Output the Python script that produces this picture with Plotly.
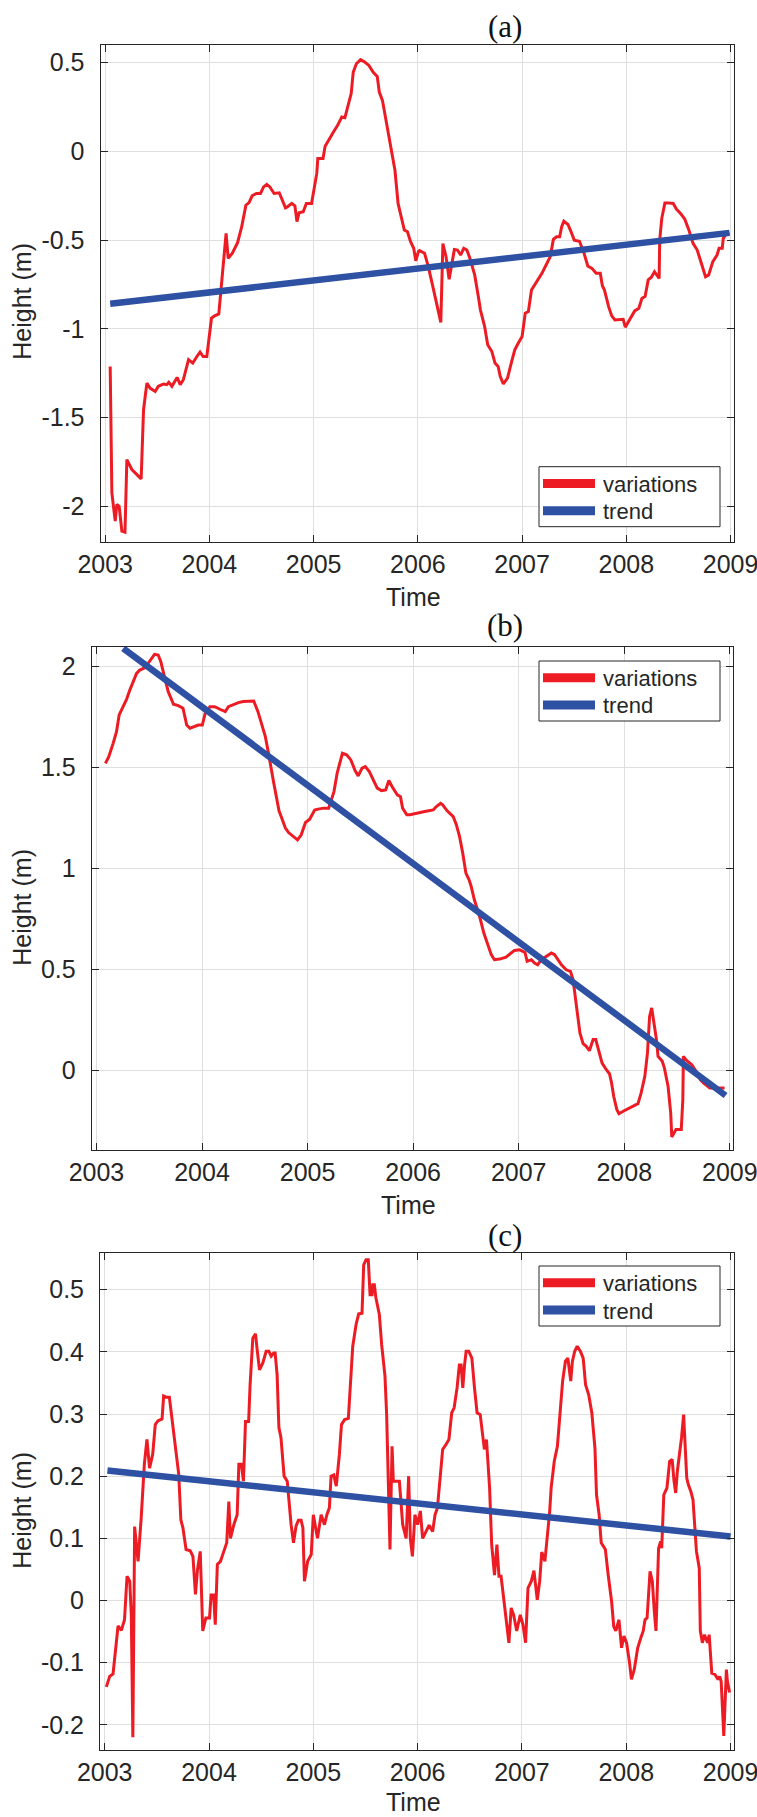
import plotly.graph_objects as go

# ---------------- data ----------------
# Panel (a)
A_t = [2003.048, 2003.064, 2003.096, 2003.112, 2003.134, 2003.16, 2003.19, 2003.208, 2003.256, 2003.288,
       2003.345, 2003.368, 2003.40, 2003.43, 2003.48, 2003.51, 2003.56, 2003.59, 2003.61, 2003.64,
       2003.69, 2003.72, 2003.75, 2003.80, 2003.84, 2003.88, 2003.91, 2003.94, 2003.975, 2004.02,
       2004.05, 2004.09, 2004.13, 2004.16, 2004.18, 2004.22, 2004.27, 2004.31, 2004.35, 2004.38,
       2004.41, 2004.45, 2004.49, 2004.52, 2004.55, 2004.58, 2004.62, 2004.67, 2004.73, 2004.75,
       2004.79, 2004.82, 2004.84, 2004.86, 2004.90, 2004.93, 2004.98, 2005.005, 2005.03, 2005.04,
       2005.09, 2005.11, 2005.15, 2005.19, 2005.23, 2005.27, 2005.30, 2005.33, 2005.36, 2005.38,
       2005.41, 2005.45, 2005.49, 2005.53, 2005.57, 2005.61, 2005.63, 2005.66, 2005.70, 2005.75,
       2005.78, 2005.81, 2005.85, 2005.87, 2005.90, 2005.93, 2005.96, 2005.98, 2006.005, 2006.016,
       2006.064, 2006.10, 2006.14, 2006.18, 2006.22, 2006.24, 2006.27, 2006.30, 2006.33, 2006.35,
       2006.38, 2006.41, 2006.44, 2006.47, 2006.50, 2006.545, 2006.58, 2006.60, 2006.64, 2006.67,
       2006.71, 2006.74, 2006.77, 2006.79, 2006.82, 2006.86, 2006.90, 2006.93, 2006.96, 2007.0,
       2007.03, 2007.06, 2007.09, 2007.14, 2007.19, 2007.23, 2007.27, 2007.30, 2007.33, 2007.36,
       2007.38, 2007.40, 2007.44, 2007.47, 2007.50, 2007.55, 2007.59, 2007.63, 2007.67, 2007.71,
       2007.75, 2007.77, 2007.79, 2007.83, 2007.86, 2007.89, 2007.94, 2007.97, 2007.99, 2008.03,
       2008.08, 2008.12, 2008.15, 2008.18, 2008.21, 2008.24, 2008.27, 2008.315, 2008.32, 2008.34,
       2008.37, 2008.40, 2008.45, 2008.48, 2008.52, 2008.56, 2008.60, 2008.64, 2008.68, 2008.71,
       2008.74, 2008.76, 2008.79, 2008.83, 2008.87, 2008.89, 2008.92, 2008.93, 2008.96, 2008.99]
A_v = [-1.212, -1.924, -2.084, -1.99, -2.0, -2.14, -2.146, -1.737, -1.793, -1.812,
       -1.846, -1.456, -1.306, -1.334, -1.353, -1.324, -1.311, -1.315, -1.302, -1.324,
       -1.274, -1.315, -1.287, -1.174, -1.193, -1.156, -1.131, -1.156, -1.156, -0.94,
       -0.927, -0.916, -0.631, -0.462, -0.603, -0.574, -0.514, -0.424, -0.303, -0.288,
       -0.25, -0.237, -0.237, -0.2, -0.186, -0.2, -0.237, -0.233, -0.318, -0.312,
       -0.293, -0.306, -0.396, -0.346, -0.34, -0.293, -0.293, -0.218, -0.124, -0.04,
       -0.04, 0.029, 0.072, 0.11, 0.147, 0.194, 0.19, 0.26, 0.326, 0.447,
       0.494, 0.517, 0.504, 0.485, 0.447, 0.423, 0.335, 0.288, 0.157, 0.007,
       -0.106, -0.293, -0.387, -0.443, -0.453, -0.509, -0.546, -0.616, -0.565, -0.559,
       -0.574, -0.649, -0.752, -0.856, -0.964, -0.519, -0.593, -0.721, -0.631, -0.553,
       -0.556, -0.584, -0.546, -0.556, -0.603, -0.696, -0.818, -0.893, -0.986, -1.09,
       -1.128, -1.193, -1.212, -1.268, -1.311, -1.278, -1.184, -1.118, -1.084, -1.043,
       -0.912, -0.903, -0.781, -0.734, -0.687, -0.64, -0.593, -0.496, -0.481, -0.481,
       -0.424, -0.393, -0.412, -0.453, -0.5, -0.506, -0.565, -0.646, -0.659, -0.687,
       -0.687, -0.757, -0.781, -0.875, -0.927, -0.95, -0.95, -0.946, -0.991, -0.95,
       -0.899, -0.884, -0.828, -0.818, -0.724, -0.709, -0.678, -0.716, -0.5, -0.378,
       -0.29, -0.29, -0.293, -0.325, -0.349, -0.381, -0.443, -0.518, -0.556, -0.612,
       -0.668, -0.706, -0.696, -0.621, -0.584, -0.546, -0.546, -0.49, -0.462, -0.468]
A_trend_t = [2003.048, 2008.99]
A_trend_v = [-0.859, -0.459]

# Panel (b)
B_t = [2003.085, 2003.117, 2003.158, 2003.19, 2003.215, 2003.25, 2003.285, 2003.316, 2003.348, 2003.38,
       2003.41, 2003.46, 2003.49, 2003.52, 2003.55, 2003.585, 2003.61, 2003.64, 2003.68, 2003.73,
       2003.775, 2003.82, 2003.855, 2003.886, 2003.93, 2003.965, 2004.003, 2004.03, 2004.075, 2004.12,
       2004.17, 2004.22, 2004.25, 2004.30, 2004.345, 2004.39, 2004.44, 2004.49, 2004.53, 2004.565,
       2004.60, 2004.63, 2004.655, 2004.68, 2004.71, 2004.73, 2004.756, 2004.79, 2004.82, 2004.867,
       2004.905, 2004.94, 2004.98, 2005.02, 2005.067, 2005.10, 2005.15, 2005.20, 2005.25, 2005.28,
       2005.33, 2005.37, 2005.41, 2005.45, 2005.48, 2005.516, 2005.547, 2005.585, 2005.627, 2005.66,
       2005.70, 2005.74, 2005.77, 2005.80, 2005.85, 2005.88, 2005.90, 2005.94, 2005.97, 2006.03,
       2006.11, 2006.19, 2006.22, 2006.26, 2006.28, 2006.32, 2006.35, 2006.38, 2006.41, 2006.44,
       2006.47, 2006.50, 2006.53, 2006.55, 2006.58, 2006.63, 2006.67, 2006.71, 2006.74, 2006.77,
       2006.82, 2006.88, 2006.92, 2006.96, 2007.01, 2007.06, 2007.08, 2007.12, 2007.15, 2007.18,
       2007.215, 2007.26, 2007.31, 2007.34, 2007.37, 2007.405, 2007.45, 2007.49, 2007.515, 2007.53,
       2007.556, 2007.58, 2007.61, 2007.64, 2007.67, 2007.705, 2007.73, 2007.76, 2007.79, 2007.83,
       2007.86, 2007.88, 2007.90, 2007.93, 2007.95, 2007.99, 2008.05, 2008.13, 2008.16, 2008.195,
       2008.22, 2008.24, 2008.26, 2008.28, 2008.305, 2008.32, 2008.36, 2008.38, 2008.415, 2008.44,
       2008.45, 2008.49, 2008.54, 2008.555, 2008.56, 2008.59, 2008.64, 2008.68, 2008.72, 2008.75,
       2008.81, 2008.87, 2008.95]
B_v = [1.521, 1.554, 1.62, 1.678, 1.761, 1.802, 1.838, 1.884, 1.926, 1.967,
       1.983, 1.995, 2.017, 2.041, 2.061, 2.058, 2.025, 1.959, 1.876, 1.814,
       1.807, 1.794, 1.711, 1.695, 1.706, 1.711, 1.711, 1.769, 1.802, 1.802,
       1.789, 1.777, 1.802, 1.814, 1.822, 1.827, 1.827, 1.83, 1.777, 1.711,
       1.653, 1.571, 1.488, 1.422, 1.34, 1.285, 1.249, 1.2, 1.178, 1.158,
       1.142, 1.167, 1.228, 1.244, 1.29, 1.294, 1.299, 1.299, 1.381, 1.472,
       1.571, 1.563, 1.538, 1.485, 1.459, 1.497, 1.505, 1.48, 1.431, 1.398,
       1.386, 1.389, 1.436, 1.406, 1.365, 1.356, 1.299, 1.266, 1.266, 1.274,
       1.282, 1.29, 1.307, 1.323, 1.315, 1.287, 1.274, 1.257, 1.216, 1.158,
       1.076, 0.977, 0.944, 0.911, 0.845, 0.762, 0.68, 0.622, 0.573, 0.548,
       0.551, 0.561, 0.576, 0.594, 0.597, 0.584, 0.54, 0.548, 0.531, 0.523,
       0.548, 0.564, 0.581, 0.573, 0.548, 0.523, 0.498, 0.49, 0.449, 0.383,
       0.267, 0.185, 0.132, 0.119, 0.097, 0.152, 0.152, 0.089, 0.036, 0.003,
       -0.017, -0.063, -0.129, -0.195, -0.215, -0.203, -0.186, -0.165, -0.112, -0.03,
       0.086, 0.267, 0.309, 0.235, 0.152, 0.069, 0.045, 0.012, -0.079, -0.211,
       -0.33, -0.294, -0.294, -0.145, 0.069, 0.049, 0.028, -0.005, -0.046, -0.063,
       -0.088, -0.088, -0.088]
B_trend_t = [2003.253, 2008.96]
B_trend_v = [2.091, -0.125]

# Panel (c)
C_t = [2003.016, 2003.048, 2003.08, 2003.128, 2003.16, 2003.19, 2003.214, 2003.24, 2003.255, 2003.27,
       2003.287, 2003.32, 2003.35, 2003.38, 2003.405, 2003.43, 2003.46, 2003.485, 2003.51, 2003.55,
       2003.565, 2003.59, 2003.62, 2003.655, 2003.686, 2003.71, 2003.73, 2003.75, 2003.78, 2003.82,
       2003.846, 2003.87, 2003.89, 2003.916, 2003.94, 2003.97, 2004.005, 2004.02, 2004.044, 2004.06,
       2004.08, 2004.11, 2004.13, 2004.17, 2004.19, 2004.206, 2004.238, 2004.27, 2004.286, 2004.31,
       2004.33, 2004.35, 2004.38, 2004.394, 2004.42, 2004.446, 2004.46, 2004.484, 2004.516, 2004.548,
       2004.574, 2004.596, 2004.62, 2004.634, 2004.653, 2004.67, 2004.69, 2004.72, 2004.75, 2004.77,
       2004.787, 2004.81, 2004.835, 2004.857, 2004.883, 2004.9, 2004.915, 2004.946, 2004.98, 2005.0,
       2005.017, 2005.04, 2005.075, 2005.107, 2005.13, 2005.154, 2005.17, 2005.196, 2005.22, 2005.25,
       2005.27, 2005.30, 2005.336, 2005.355, 2005.378, 2005.41, 2005.435, 2005.467, 2005.483, 2005.505,
       2005.527, 2005.544, 2005.563, 2005.57, 2005.585, 2005.60, 2005.633, 2005.655, 2005.687, 2005.703,
       2005.72, 2005.735, 2005.755, 2005.767, 2005.80, 2005.825, 2005.857, 2005.89, 2005.914, 2005.93,
       2005.95, 2005.974, 2006.0, 2006.026, 2006.048, 2006.08, 2006.11, 2006.144, 2006.167, 2006.19,
       2006.218, 2006.24, 2006.272, 2006.30, 2006.327, 2006.35, 2006.378, 2006.40, 2006.417, 2006.433,
       2006.45, 2006.465, 2006.49, 2006.52, 2006.545, 2006.57, 2006.60, 2006.625, 2006.64, 2006.66,
       2006.69, 2006.71, 2006.737, 2006.76, 2006.78, 2006.80, 2006.827, 2006.85, 2006.875, 2006.897,
       2006.92, 2006.95, 2006.984, 2007.01, 2007.035, 2007.058, 2007.09, 2007.115, 2007.147, 2007.17,
       2007.19, 2007.22, 2007.24, 2007.266, 2007.28, 2007.31, 2007.34, 2007.36, 2007.39, 2007.417,
       2007.44, 2007.468, 2007.484, 2007.506, 2007.53, 2007.56, 2007.587, 2007.61, 2007.64, 2007.67,
       2007.70, 2007.715, 2007.74, 2007.76, 2007.80, 2007.827, 2007.86, 2007.88, 2007.90, 2007.93,
       2007.955, 2007.978, 2008.003, 2008.03, 2008.05, 2008.077, 2008.11, 2008.14, 2008.163, 2008.18,
       2008.2, 2008.228, 2008.25, 2008.27, 2008.285, 2008.30, 2008.31, 2008.33, 2008.34, 2008.36,
       2008.39, 2008.416, 2008.44, 2008.458, 2008.474, 2008.49, 2008.51, 2008.53, 2008.55, 2008.58,
       2008.596, 2008.62, 2008.64, 2008.66, 2008.673, 2008.70, 2008.71, 2008.73, 2008.75, 2008.78,
       2008.795, 2008.82, 2008.85, 2008.88, 2008.895, 2008.91, 2008.935, 2008.96, 2008.97, 2008.99]
C_v = [-0.139, -0.122, -0.118, -0.041, -0.048, -0.031, 0.039, 0.031, -0.023, -0.22,
       0.119, 0.063, 0.133, 0.219, 0.259, 0.213, 0.235, 0.283, 0.289, 0.292,
       0.329, 0.327, 0.327, 0.275, 0.232, 0.203, 0.13, 0.117, 0.082, 0.08,
       0.071, 0.01, 0.05, 0.079, -0.049, -0.028, -0.028, 0.009, 0.009, -0.039,
       0.058, 0.063, 0.073, 0.093, 0.159, 0.1, 0.122, 0.138, 0.219, 0.219,
       0.192, 0.288, 0.288, 0.347, 0.422, 0.429, 0.406, 0.371, 0.382, 0.401,
       0.401, 0.393, 0.398, 0.398, 0.363, 0.278, 0.262, 0.2, 0.192, 0.154,
       0.122, 0.093, 0.12, 0.129, 0.129, 0.117, 0.031, 0.063, 0.074, 0.138,
       0.122, 0.1, 0.138, 0.122, 0.138, 0.149, 0.2, 0.202, 0.184, 0.235,
       0.283, 0.291, 0.293, 0.342, 0.409, 0.444, 0.461, 0.462, 0.54, 0.548,
       0.548, 0.492, 0.492, 0.508, 0.508, 0.487, 0.46, 0.412, 0.361, 0.299,
       0.192, 0.082, 0.248, 0.192, 0.192, 0.192, 0.122, 0.1, 0.2, 0.1,
       0.071, 0.138, 0.122, 0.144, 0.1, 0.111, 0.121, 0.111, 0.138, 0.149,
       0.197, 0.243, 0.251, 0.259, 0.302, 0.31, 0.342, 0.379, 0.379, 0.342,
       0.379, 0.401, 0.401, 0.39, 0.342, 0.302, 0.299, 0.259, 0.243, 0.259,
       0.181, 0.09, 0.041, 0.09, 0.039, 0.039, -0.002, -0.039, -0.068, -0.012,
       -0.023, -0.049, -0.023, -0.039, -0.068, 0.02, 0.031, 0.048, 0.001, 0.031,
       0.078, 0.063, 0.095, 0.143, 0.181, 0.224, 0.248, 0.294, 0.353, 0.385,
       0.39, 0.353, 0.385, 0.401, 0.409, 0.401, 0.39, 0.347, 0.331, 0.302,
       0.245, 0.17, 0.138, 0.093, 0.082, 0.041, -0.002, -0.042, -0.049, -0.031,
       -0.076, -0.057, -0.068, -0.098, -0.127, -0.111, -0.076, -0.06, -0.049, -0.031,
       -0.028, 0.047, 0.031, -0.02, -0.049, 0.031, 0.084, 0.095, 0.084, 0.17,
       0.181, 0.224, 0.227, 0.192, 0.173, 0.208, 0.235, 0.262, 0.299, 0.197,
       0.186, 0.175, 0.162, 0.1, 0.079, 0.052, -0.049, -0.068, -0.055, -0.068,
       -0.055, -0.117, -0.119, -0.127, -0.122, -0.13, -0.218, -0.111, -0.13, -0.148]
C_trend_t = [2003.026, 2009.0]
C_trend_v = [0.209, 0.103]

year_ticks = [2003, 2004, 2005, 2006, 2007, 2008, 2009]
year_labels = ["2003", "2004", "2005", "2006", "2007", "2008", "2009"]
A_yticks = [-2, -1.5, -1, -0.5, 0, 0.5]
A_ylabels = ["-2", "-1.5", "-1", "-0.5", "0", "0.5"]
B_yticks = [0, 0.5, 1, 1.5, 2]
B_ylabels = ["0", "0.5", "1", "1.5", "2"]
C_yticks = [-0.2, -0.1, 0, 0.1, 0.2, 0.3, 0.4, 0.5]
C_ylabels = ["-0.2", "-0.1", "0", "0.1", "0.2", "0.3", "0.4", "0.5"]
panel_titles = ["(a)", "(b)", "(c)"]
series_names = ["variations", "trend"]

# ---------------- style ----------------
W, H = 757, 1817
RED = "#ED1C24"
BLUE = "#2E51A3"
INK = "#262626"
GRID = "#DFDFDF"
SANS = "Liberation Sans"
SERIF = "Liberation Serif"


def px_x(p):
    return p / W


def px_y(p):
    return 1 - p / H


panels = [
    dict(t=A_t, v=A_v, tt=A_trend_t, tv=A_trend_v, yt=A_yticks, yl=A_ylabels, yr=[-2.2, 0.6],
         dom_x=[100.5, 734], dom_y=[541.7, 45], title_y=26, time_y=597, ylab_y=301, leg_top=466.7),
    dict(t=B_t, v=B_v, tt=B_trend_t, tv=B_trend_v, yt=B_yticks, yl=B_ylabels, yr=[-0.395, 2.099],
         dom_x=[91.7, 733.3], dom_y=[1150, 646.7], title_y=625, time_y=1205, ylab_y=907, leg_top=661),
    dict(t=C_t, v=C_v, tt=C_trend_t, tv=C_trend_v, yt=C_yticks, yl=C_ylabels, yr=[-0.24, 0.559],
         dom_x=[100, 734], dom_y=[1749.7, 1253], title_y=1235, time_y=1802, ylab_y=1510, leg_top=1266),
]

fig = go.Figure()
annotations = []
shapes = []
layout = dict(
    width=W, height=H, margin=dict(l=0, r=0, t=0, b=0, pad=0, autoexpand=False),
    paper_bgcolor="white", plot_bgcolor="white", showlegend=False,
)

LEG_L, LEG_R = 539, 720
LINE_L, LINE_R = 543, 595
TEXT_L = 601

for i, p in enumerate(panels):
    sfx = "" if i == 0 else str(i + 1)
    xa, ya = "x" + sfx, "y" + sfx
    fig.add_trace(go.Scatter(x=p["t"], y=p["v"], mode="lines", line=dict(color=RED, width=3),
                             name=series_names[0], xaxis=xa, yaxis=ya, hoverinfo="skip"))
    fig.add_trace(go.Scatter(x=p["tt"], y=p["tv"], mode="lines", line=dict(color=BLUE, width=6.5),
                             name=series_names[1], xaxis=xa, yaxis=ya, hoverinfo="skip"))

    common = dict(showline=True, linecolor=INK, linewidth=1, mirror="ticks", ticks="inside",
                  ticklen=7, tickwidth=1, tickcolor=INK, showgrid=True, gridcolor=GRID,
                  gridwidth=1, zeroline=False, automargin=False, ticklabeloverflow="allow",
                  tickfont=dict(family=SANS, size=25, color=INK))
    layout["xaxis" + sfx] = dict(common, domain=[px_x(p["dom_x"][0]), px_x(p["dom_x"][1])],
                                 range=[2002.955, 2009.033], tickvals=year_ticks, ticktext=year_labels,
                                 anchor=ya)
    layout["yaxis" + sfx] = dict(common, domain=[px_y(p["dom_y"][0]), px_y(p["dom_y"][1])],
                                 range=p["yr"], tickvals=p["yt"], ticktext=p["yl"], anchor=xa,
                                 ticklabelstandoff=10)

    # legend box (drawn in paper coordinates)
    top = p["leg_top"]
    shapes.append(dict(type="rect", xref="paper", yref="paper",
                       x0=px_x(LEG_L), x1=px_x(LEG_R), y0=px_y(top), y1=px_y(top + 60),
                       line=dict(color=INK, width=1), fillcolor="white", layer="above"))
    for k, (col, name) in enumerate(zip([RED, BLUE], series_names)):
        yy = top + 16.7 + 27.3 * k
        shapes.append(dict(type="line", xref="paper", yref="paper",
                           x0=px_x(LINE_L), x1=px_x(LINE_R), y0=px_y(yy), y1=px_y(yy),
                           line=dict(color=col, width=9), layer="above"))
        annotations.append(dict(text=name, x=px_x(TEXT_L), y=px_y(yy + 1), xref="paper", yref="paper",
                                showarrow=False, xanchor="left", yanchor="middle",
                                font=dict(family=SANS, size=22, color=INK)))

    cx = (p["dom_x"][0] + p["dom_x"][1]) / 2
    annotations.append(dict(text=panel_titles[i], x=px_x(505), y=px_y(p["title_y"]), xref="paper",
                            yref="paper", showarrow=False, xanchor="center", yanchor="middle",
                            font=dict(family=SERIF, size=31, color="#111111")))
    annotations.append(dict(text="Time", x=px_x(cx - 4), y=px_y(p["time_y"]), xref="paper",
                            yref="paper", showarrow=False, xanchor="center", yanchor="middle",
                            font=dict(family=SANS, size=25, color=INK)))
    annotations.append(dict(text="Height (m)", x=px_x(21.7), y=px_y(p["ylab_y"]), xref="paper",
                            yref="paper", showarrow=False, xanchor="center", yanchor="middle",
                            textangle=-90, font=dict(family=SANS, size=25, color=INK)))

layout["annotations"] = annotations
layout["shapes"] = shapes
fig.update_layout(**layout)
fig.write_html("out.html")
